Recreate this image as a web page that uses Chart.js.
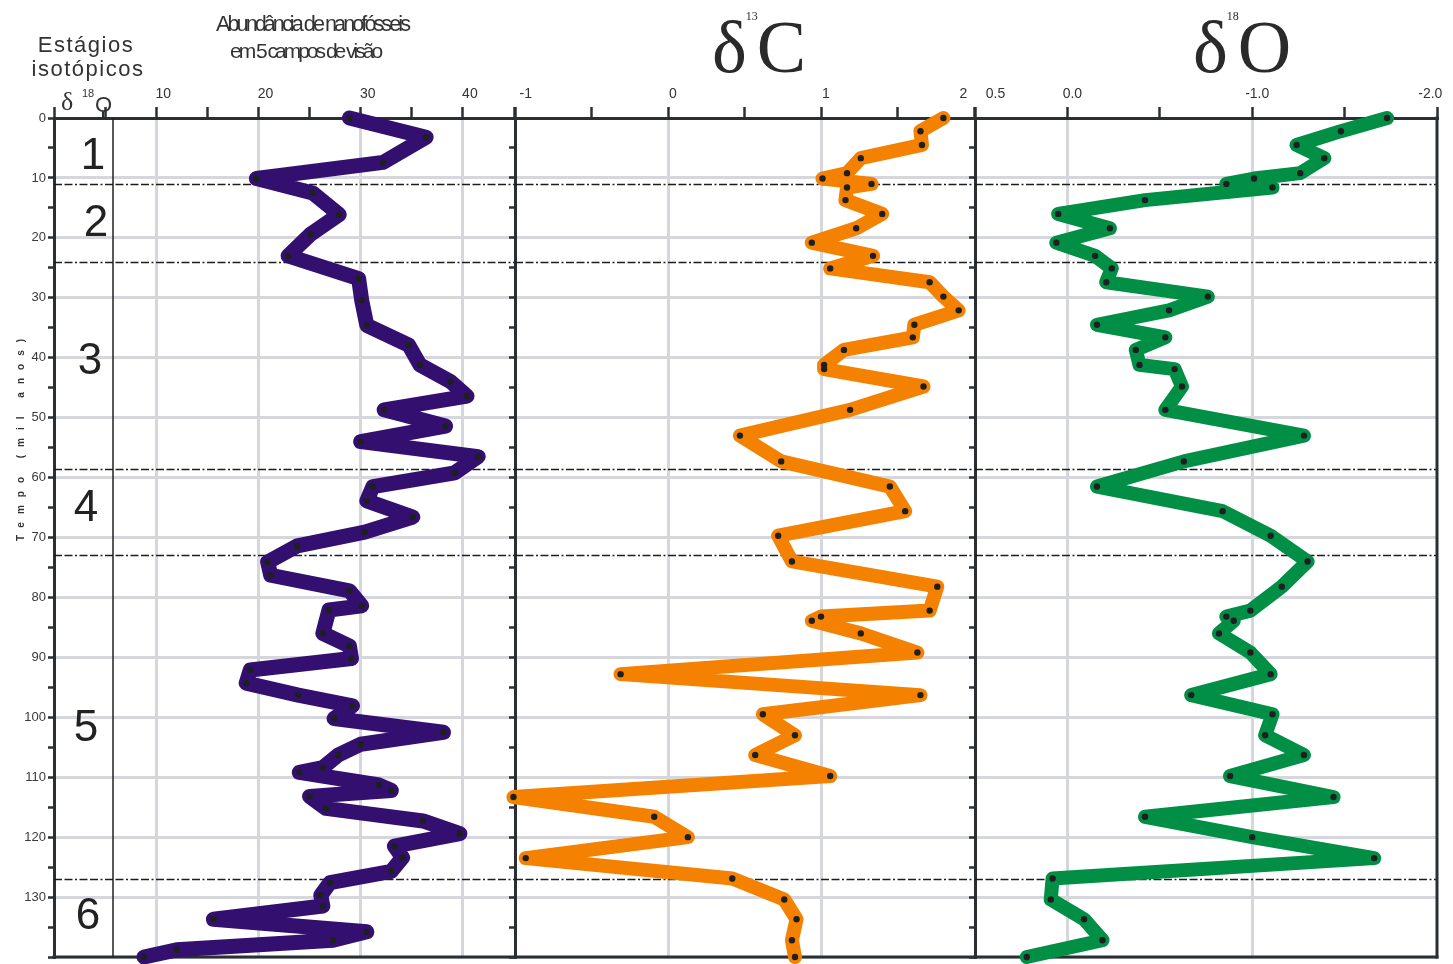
<!DOCTYPE html>
<html>
<head>
<meta charset="utf-8">
<script src="https://cdn.jsdelivr.net/npm/chart.js@4/dist/chart.umd.min.js"></script>
<style>
  html, body { margin: 0; padding: 0; background: #fff; overflow: hidden; }
  #wrap { position: relative; width: 1453px; height: 964px; }
  #wrap canvas { position: absolute; left: 0; top: 0; }
</style>
</head>
<body>
<div id="wrap">
  <canvas id="nanoChart" width="1453" height="964"></canvas>
  <canvas id="carbonChart" width="1453" height="964"></canvas>
  <canvas id="oxygenChart" width="1453" height="964"></canvas>
</div>
<script>
// nannofossil abundance (per 5 fields of view) vs time (ka)
const nanoTime = [0, 3.2, 7.4, 10.1, 12.5, 16.1, 19.4, 23.0, 26.8, 30.4, 34.6, 37.9, 41.2, 44.0, 46.4,
  48.7, 51.4, 54.0, 56.5, 59.2, 61.5, 63.9, 66.6, 69.1, 71.4, 74.1, 76.3, 78.9, 81.4, 82.1, 86.0, 88.1,
  90.2, 92.1, 94.3, 96.3, 98.1, 100.2, 102.5, 104.5, 106.3, 108.4, 109.2, 111.3, 112.2, 113.2, 115.2,
  117.3, 119.4, 121.5, 123.4, 125.7, 127.6, 129.7, 131.5, 133.7, 135.8, 137.2, 138.8, 140.0];
const nanoAbundance = [28.9, 36.4, 32.2, 19.8, 25.3, 27.9, 25.1, 22.9, 29.8, 30.1, 30.6, 34.7, 35.8, 38.8, 40.4,
  32.3, 38.3, 30.0, 41.5, 39.2, 31.2, 30.6, 35.1, 30.4, 23.8, 20.9, 21.2, 28.9, 30.1, 26.9, 26.3, 28.9,
  29.1, 19.2, 18.8, 23.9, 29.2, 27.4, 38.1, 30.0, 27.8, 26.3, 24.0, 31.8, 33.0, 25.0, 26.6,
  36.1, 39.7, 33.3, 34.1, 33.0, 27.0, 26.1, 26.3, 15.6, 30.6, 27.3, 12.0, 8.8];

// isotope samples (same depths for carbon and oxygen)
const isoTime = [0, 2.2, 4.5, 6.7, 9.2, 10.1, 11.0, 11.6, 13.7, 16.0, 18.4, 20.8, 23.0, 25.1, 27.4,
  29.8, 32.1, 34.5, 36.6, 38.7, 41.2, 41.9, 44.8, 48.7, 53.0, 57.3, 61.5, 65.6, 69.7, 74.0,
  78.2, 82.2, 83.2, 83.9, 86.0, 89.2, 92.8, 96.3, 99.5, 103.0, 106.3, 109.8, 113.3, 116.6, 120.0,
  123.5, 126.9, 130.4, 133.7, 137.2, 140.0];
const d13C = [1.80, 1.65, 1.66, 1.26, 1.17, 1.01, 1.33, 1.17, 1.16, 1.40, 1.23, 0.94, 1.34, 1.06, 1.71,
  1.80, 1.90, 1.61, 1.60, 1.15, 1.02, 1.02, 1.67, 1.19, 0.47, 0.74, 1.45, 1.55, 0.72, 0.81,
  1.76, 1.71, 1.00, 0.94, 1.26, 1.63, -0.31, 1.65, 0.62, 0.83, 0.57, 1.06, -1.01, -0.09, 0.13,
  -0.93, 0.42, 0.76, 0.84, 0.81, 0.83];
const d18O = [-1.73, -1.48, -1.24, -1.39, -1.26, -1.01, -0.86, -1.11, -0.42, 0.05, -0.23, 0.06, -0.15, -0.24, -0.21,
  -0.76, -0.55, -0.16, -0.53, -0.37, -0.39, -0.58, -0.62, -0.53, -1.28, -0.63, -0.16, -0.84, -1.10, -1.30,
  -1.16, -0.99, -0.86, -0.90, -0.82, -0.99, -1.10, -0.67, -1.11, -1.07, -1.28, -0.88, -1.44, -0.42, -1.00,
  -1.66, 0.08, 0.09, -0.09, -0.19, 0.22];

// isotope stages and their boundaries (ka)
const stageNames = ['1', '2', '3', '4', '5', '6'];
const stageBounds = [11, 24, 58.5, 73, 127];

// tick labels shown on each top axis
const nanoTickLabels = [10, 20, 30, 40];
const carbonTickLabels = [-1, 0, 1, 2];
const oxygenTickLabels = [0.5, 0, -1, -2];

const GRID = '#d5d7dc';
const INK = '#2b2f31';
const NARROW = "'Liberation Sans Narrow', 'Liberation Sans', Arial, sans-serif";
const SANS = "'Liberation Sans', Arial, sans-serif";
const SERIF = "'Liberation Serif', 'DejaVu Serif', serif";

function near(a, b) { return Math.abs(a - b) < 1e-6; }
function inList(list, v) { return list.some(l => near(l, v)); }
function toPoints(xs, ys) { return xs.map((v, i) => ({x: v, y: ys[i]})); }
// centred labels nudged off the panel edges with spaces
function pad(txt, before, after) { return ' '.repeat(before) + txt + ' '.repeat(after); }

// stage boundaries + frame, drawn under the curves; decorations on top
function framePlugin(p) {
    return {
        id: 'frame',
        beforeDatasetsDraw(chart) {
            const {ctx, chartArea: a, scales: {y}} = chart;
            ctx.save();
            ctx.strokeStyle = '#1c1c1c';
            ctx.lineWidth = 1.5;
            ctx.setLineDash([8, 2.5, 8, 2.5, 2, 2.5]);
            stageBounds.forEach(t => {
                const py = Math.round(y.getPixelForValue(t)) + 0.5;
                ctx.beginPath();
                ctx.moveTo(a.left, py);
                ctx.lineTo(a.right, py);
                ctx.stroke();
            });
            ctx.setLineDash([]);
            ctx.strokeStyle = INK;
            ctx.lineWidth = 3;
            ctx.beginPath();
            ctx.moveTo(a.left - 1.5, a.bottom);
            ctx.lineTo(a.right + 1.5, a.bottom);
            ctx.stroke();
            if (p.rightBorder) {
                ctx.beginPath();
                ctx.moveTo(a.right, a.top - 1.5);
                ctx.lineTo(a.right, a.bottom + 1.5);
                ctx.stroke();
            }
            if (p.stageColumn) {
                ctx.strokeStyle = '#222';
                ctx.lineWidth = 1.5;
                ctx.beginPath();
                ctx.moveTo(a.left + 59, a.top);
                ctx.lineTo(a.left + 59, a.bottom);
                ctx.stroke();
            }
            ctx.restore();
        },
        afterDraw(chart) {
            if (p.decorate) p.decorate(chart);
        }
    };
}

function drawNanoDecor(chart) {
    const ctx = chart.ctx;
    const y = chart.scales.y;
    ctx.save();
    ctx.fillStyle = '#333';
    ctx.textBaseline = 'alphabetic';

    ctx.textAlign = 'center';
    ctx.font = '22px ' + SANS;
    ctx.letterSpacing = '1.5px';
    ctx.fillText('Estágios', 86, 52);
    ctx.fillText('isotópicos', 88, 76);
    ctx.letterSpacing = '0px';

    ctx.textAlign = 'left';
    ctx.font = '26px ' + SERIF;
    ctx.fillText('δ', 61, 110);
    ctx.font = '11px ' + SANS;
    ctx.fillText('18', 82, 97);
    ctx.font = '22px ' + SANS;
    ctx.fillText('O', 95, 112);
    ctx.strokeStyle = INK;
    ctx.lineWidth = 2;
    ctx.beginPath();
    ctx.moveTo(103, 112);
    ctx.lineTo(103, 118);
    ctx.stroke();

    ctx.font = '22px ' + SANS;
    ctx.letterSpacing = '-3px';
    ctx.fillText('Abundância de nanofósseis', 216, 31, 192);
    ctx.font = '21px ' + SANS;
    ctx.fillText('em 5 campos de visão', 230, 58, 152);
    ctx.letterSpacing = '0px';

    // stage numbers
    const stageLabelAt = [8.5, 19.7, 42.7, 67.2, 104, 135.3];
    const stageLabelX = [93, 96, 90, 86, 86, 88];
    ctx.fillStyle = '#222';
    ctx.textAlign = 'center';
    ctx.font = '44px ' + SANS;
    stageNames.forEach((s, i) => ctx.fillText(s, stageLabelX[i], y.getPixelForValue(stageLabelAt[i])));

    // axis title
    ctx.translate(21, 440);
    ctx.rotate(-Math.PI / 2);
    ctx.fillStyle = '#333';
    ctx.font = 'bold 10px ' + SANS;
    ctx.letterSpacing = '8px';
    ctx.textBaseline = 'middle';
    ctx.fillText('Tempo (mil anos)', 4, 0);
    ctx.restore();
}

function isoTitle(x0, sup, letter) {
    return function (chart) {
        const ctx = chart.ctx;
        ctx.save();
        ctx.fillStyle = '#2a2a2a';
        ctx.textAlign = 'left';
        ctx.textBaseline = 'alphabetic';
        ctx.font = '74px ' + SERIF;
        const w = ctx.measureText('δ').width;
        ctx.fillText('δ', x0, 72);
        ctx.fillText(letter, x0 + w + 10, 72);
        ctx.font = '12px ' + SERIF;
        ctx.fillText(sup, x0 + w - 1, 20);
        ctx.restore();
    };
}

function makePanel(id, p) {
    return new Chart(id, {
        type: 'scatter',
        data: {
            datasets: [{
                data: toPoints(p.values, p.times),
                showLine: true,
                borderColor: p.color,
                borderWidth: p.width,
                borderCapStyle: 'round',
                borderJoinStyle: 'round',
                pointRadius: 3.2,
                pointHoverRadius: 3.2,
                pointBackgroundColor: '#1f1f1f',
                pointBorderWidth: 0,
                clip: false
            }]
        },
        options: {
            responsive: false,
            animation: false,
            events: [],
            layout: {padding: {left: p.left - 40, right: 1453 - p.right, top: 0, bottom: 7}},
            plugins: {
                legend: {display: false},
                tooltip: {enabled: false}
            },
            scales: {
                x: {
                    type: 'linear',
                    position: 'top',
                    min: p.min,
                    max: p.max,
                    reverse: !!p.reverse,
                    afterFit: s => { s.height = 118; s.paddingLeft = 0; s.paddingRight = 0; },
                    ticks: {
                        stepSize: p.step,
                        autoSkip: false,
                        maxRotation: 0,
                        align: 'center',
                        labelOffset: p.labelOffset,
                        padding: 4,
                        color: '#333',
                        font: {size: 14, family: NARROW},
                        callback: p.tickLabel
                    },
                    grid: {
                        color: c => (c.tick && p.gridAt(c.tick.value)) ? GRID : 'rgba(0,0,0,0)',
                        lineWidth: 3,
                        tickColor: INK,
                        tickWidth: 2.5,
                        tickLength: 11
                    },
                    border: {display: true, color: INK, width: 3}
                },
                y: {
                    type: 'linear',
                    min: 0,
                    max: 140,
                    reverse: true,
                    afterFit: s => { s.width = 40; s.paddingTop = 0; s.paddingBottom = 0; },
                    ticks: {
                        stepSize: 5,
                        autoSkip: false,
                        padding: 2,
                        color: '#3a3a3a',
                        font: {size: 13, family: NARROW},
                        callback: v => (p.yLabels && v % 10 === 0 && v < 140) ? v : ''
                    },
                    grid: {
                        color: c => (c.tick && c.tick.value % 10 === 0) ? GRID : 'rgba(0,0,0,0)',
                        lineWidth: 3,
                        tickColor: INK,
                        tickWidth: 2.5,
                        tickLength: 6
                    },
                    border: {display: true, color: INK, width: 3}
                }
            }
        },
        plugins: [framePlugin(p)]
    });
}

makePanel('nanoChart', {
    values: nanoAbundance, times: nanoTime,
    color: '#33106f', width: 15,
    left: 54, right: 514,
    min: 0, max: 45, step: 5, labelOffset: 7,
    tickLabel: v => inList(nanoTickLabels, v) ? String(v) : '',
    gridAt: v => inList(nanoTickLabels, v),
    yLabels: true,
    stageColumn: true,
    decorate: drawNanoDecor
});

makePanel('carbonChart', {
    values: d13C, times: isoTime,
    color: '#f48200', width: 14,
    left: 515, right: 974,
    min: -1, max: 2, step: 0.5, labelOffset: 5,
    tickLabel: v => {
        if (!inList(carbonTickLabels, v)) return '';
        if (near(v, -1)) return pad('-1', 3, 0);
        if (near(v, 2)) return pad('2', 0, 8);
        return String(Math.round(v));
    },
    gridAt: v => near(v, 0) || near(v, 1),
    yLabels: false,
    decorate: isoTitle(712, '13', 'C')
});

makePanel('oxygenChart', {
    values: d18O, times: isoTime,
    color: '#008f45', width: 14,
    left: 975, right: 1437,
    min: -2, max: 0.5, step: 0.5, reverse: true, labelOffset: 5,
    tickLabel: v => {
        if (!inList(oxygenTickLabels, v)) return '';
        if (near(v, 0.5)) return pad('0.5', 8, 0);
        if (near(v, -2)) return pad('-2.0', 0, 6);
        return near(v, 0) ? '0.0' : v.toFixed(1);
    },
    gridAt: v => near(v, 0) || near(v, -1),
    yLabels: false,
    rightBorder: true,
    decorate: isoTitle(1193, '18', 'O')
});
</script>
</body>
</html>
